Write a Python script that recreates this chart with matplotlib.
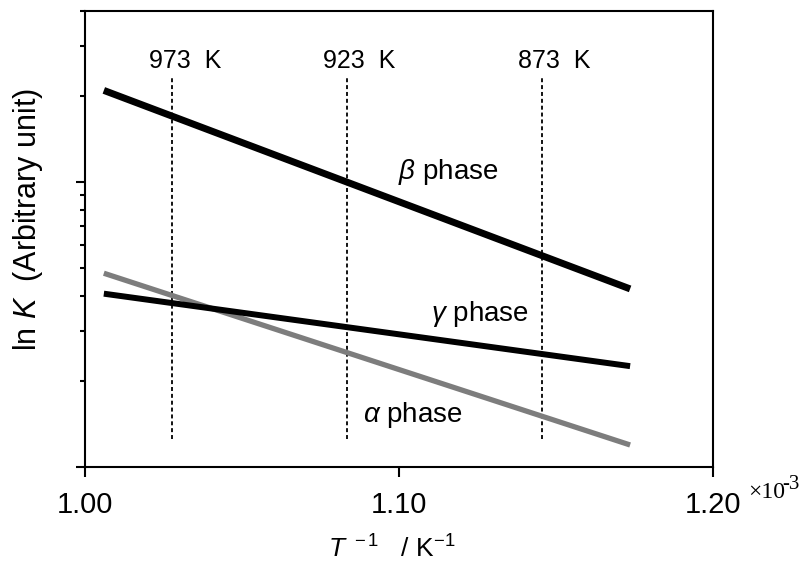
import matplotlib
matplotlib.use("Agg")
import matplotlib.pyplot as plt
from matplotlib.ticker import LogLocator, NullFormatter, FixedLocator, FixedFormatter

plt.rcParams['font.family'] = ['Liberation Sans', 'DejaVu Sans']
plt.rcParams['mathtext.fontset'] = 'custom'
plt.rcParams['mathtext.rm'] = 'Liberation Sans'
plt.rcParams['mathtext.it'] = 'Liberation Sans:italic'

# Data (x in 10^-3 K^-1, y = K arbitrary units on log scale)
x_range = [1.006, 1.1736]
beta_k = [21.0, 4.22]
gamma_k = [4.06, 2.26]
alpha_k = [4.79, 1.195]

temps = [973, 923, 873]
phase_labels = [r'$\beta$ phase', r'$\gamma$ phase', r'$\alpha$ phase']
label_pos = [(1.0997, 10.87), (1.1102, 3.435), (1.0885, 1.525)]
x_ticks = [1.00, 1.10, 1.20]
x_tick_labels = ['1.00', '1.10', '1.20']

fig = plt.figure(figsize=(8.04, 5.62), dpi=100)
ax = fig.add_axes([85/804, 1-467/562, 628/804, (467-10.7)/562])

ax.set_xlim(1.0, 1.2)
ax.set_yscale('log')
ax.set_ylim(1, 40)

# vertical dashed temperature lines
for T in temps:
    xv = 1000.0 / T
    ax.axvline(xv, ymin=0.061, ymax=0.855, color='black', lw=1.3,
               linestyle=(0, (2.2, 1.6)))
    ax.annotate(f'{T}  K', xy=(xv, 0.874), xycoords=('data', 'axes fraction'),
                xytext=(-17, 0), textcoords='offset points', ha='left',
                va='baseline', fontsize=18)

ax.plot(x_range, alpha_k, color='#7d7d7d', lw=3.8, solid_capstyle='butt')
ax.plot(x_range, gamma_k, color='black', lw=4.3, solid_capstyle='butt')
ax.plot(x_range, beta_k, color='black', lw=5.0, solid_capstyle='butt')

for txt, (px, py) in zip(phase_labels, label_pos):
    ax.text(px, py, txt, ha='left', va='center', fontsize=20)

ax.xaxis.set_major_locator(FixedLocator(x_ticks))
ax.xaxis.set_major_formatter(FixedFormatter(x_tick_labels))
ax.yaxis.set_major_locator(LogLocator(base=10, numticks=5))
ax.yaxis.set_minor_locator(LogLocator(base=10, subs=range(2, 10), numticks=20))
ax.yaxis.set_major_formatter(NullFormatter())
ax.yaxis.set_minor_formatter(NullFormatter())

ax.tick_params(axis='x', which='major', direction='out', length=7.2, width=1.5,
               pad=10, labelsize=21)
ax.tick_params(axis='y', which='major', direction='out', length=6.5, width=1.5)
ax.tick_params(axis='y', which='minor', direction='out', length=3.6, width=1.5)
for s in ax.spines.values():
    s.set_linewidth(1.5)

# x10^-3 multiplier
ax.text(1.0557, -0.068, '×10', transform=ax.transAxes, ha='left', va='baseline',
        fontsize=17, family='Liberation Serif')
ax.text(1.111, -0.048, '-3', transform=ax.transAxes, ha='left', va='baseline',
        fontsize=15, family='Liberation Serif')

fig.text(392/804, 0.008, r'$T^{\ -1}$   / K$^{-1}$', ha='center', va='baseline',
         fontsize=19)
fig.text(28/804, 1-220/562, r'ln $K$  (Arbitrary unit)', ha='center', va='center',
         rotation=90, fontsize=22)

fig.savefig('out.png', dpi=100)
